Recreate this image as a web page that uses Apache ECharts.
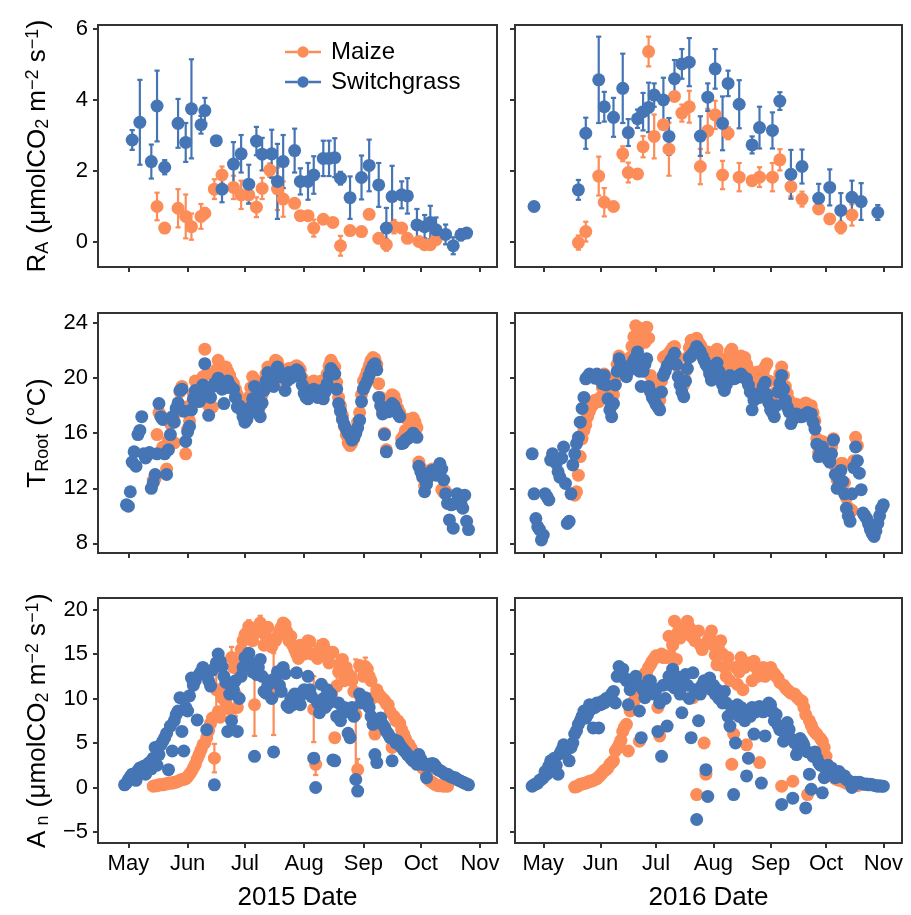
<!DOCTYPE html>
<html><head><meta charset="utf-8">
<script src="https://cdn.jsdelivr.net/npm/echarts@6/dist/echarts.min.js"></script>
<style>html,body{margin:0;padding:0;background:#fff}#c{width:911px;height:915px}</style>
</head><body><div id="c"></div>
<script>
// ---------------- DATA ----------------
// x values are days counted from May 1 of each year
const monthTickDays = [0, 31, 61, 92, 123, 153, 184];
const monthLabels = ['May', 'Jun', 'Jul', 'Aug', 'Sep', 'Oct', 'Nov'];
const raTicks = [0, 2, 4, 6];
const tTicks = [8, 12, 16, 20, 24];
const anTicks = [-5, 0, 5, 10, 15, 20];

// R_A (sparse, mean and error)
const raSwitch2015Day = [2,6,12,15,19,26,30,33,38,40,46,49,55,59,63,67,70,75,78,81,87,90,94,97,102,105,108,111,116,122,126,131,135,138,143,146,151,155,158,161,166,170,174,177];
const raSwitch2015Val = [2.87,3.37,2.26,3.83,2.10,3.34,2.80,3.75,3.30,3.70,2.85,1.48,2.19,2.48,1.62,2.84,2.47,2.48,1.70,2.26,2.57,1.70,1.70,1.88,2.35,2.35,2.37,1.79,1.24,1.81,2.15,1.60,0.38,1.27,1.32,1.29,0.47,0.42,0.54,0.33,0.20,-0.12,0.19,0.24];
const raSwitch2015Err = [0.28,1.20,0.48,1.00,0.20,0.69,0.55,1.40,0.25,0.36,0.10,0.37,0.62,0.53,0.55,0.40,0.46,0.68,1.06,0.75,0.62,0.37,0.52,0.53,0.50,0.50,0.55,0.18,0.60,0.62,0.73,0.62,0.57,0.87,0.38,0.50,0.45,0.33,0.47,0.35,0.28,0.24,0.16,0.10];
const raMaize2015Day = [15,19,26,30,33,38,40,45,49,55,59,63,67,70,74,78,81,87,90,94,97,102,107,111,116,122,126,131,135,139,143,146,152,155,158,161];
const raMaize2015Val = [0.99,0.38,0.94,0.71,0.42,0.71,0.80,1.48,1.88,1.53,1.32,1.32,0.97,1.50,2.02,1.49,1.20,1.08,0.73,0.73,0.38,0.63,0.54,-0.12,0.31,0.28,0.77,0.09,-0.09,0.42,0.38,0.09,0.00,-0.09,-0.09,0.05];
const raMaize2015Err = [0.39,0,0.54,0.62,0.37,0.35,0.15,0.28,0.24,0.33,0.40,0.24,0.28,0.30,0.19,0.60,0.50,0.10,0.10,0.10,0.24,0.10,0.10,0.28,0.10,0.10,0.10,0.10,0.17,0.19,0.10,0.10,0.10,0.10,0.10,0.10];
const raSwitch2016Day = [-5,19,23,30,33,38,43,46,51,54,57,60,65,68,71,75,79,85,89,93,97,100,106,113,117,124,128,134,140,149,155,161,167,172,181];
const raSwitch2016Val = [0.99,1.46,3.06,4.57,3.81,3.51,4.33,3.08,3.47,3.67,3.79,4.14,4.00,2.97,4.60,5.02,5.07,2.98,4.08,4.88,3.34,4.47,3.88,2.73,3.22,3.14,3.97,1.90,2.12,1.22,1.53,0.88,1.25,1.13,0.82];
const raSwitch2016Err = [0,0.28,0.44,1.22,0.42,0.55,0.98,0.38,0.26,0.53,0.70,0.33,0.63,0.52,0.53,0.42,0.68,0.56,0.39,0.56,0.76,0.36,0.68,0.24,0.59,0.51,0.25,0.69,0.48,0.41,0.51,0.49,0.47,0.52,0.21];
const raMaize2016Day = [19,23,30,33,38,43,46,51,54,57,60,65,68,71,75,79,85,89,93,97,100,106,113,117,124,128,134,140,149,155,161,167];
const raMaize2016Val = [-0.03,0.28,1.85,1.11,0.99,2.48,1.95,1.91,2.68,5.37,2.97,3.30,2.61,4.10,3.63,3.81,2.12,3.13,3.58,1.88,3.06,1.82,1.72,1.82,1.82,2.31,1.55,1.20,0.92,0.64,0.40,0.75];
const raMaize2016Err = [0.20,0.28,0.55,0.40,0.10,0.21,0.28,0.10,0.30,0.42,0.62,0.10,0.75,0.10,0.24,0.45,0.50,0.62,0.40,0.40,0.17,0.40,0.10,0.28,0.40,0.30,0.28,0.21,0.10,0.10,0.17,0.30];

// T_root (daily values, first value at the given start day)
const tSwitch2015Start = -1;
const tSwitch2015 = [10.8,10.7,11.75,13.9,14.65,13.6,15.9,16.2,17.2,14.5,
14.2,14.4,14.6,12.0,12.4,13.0,14.5,18.15,17.2,17.0,
14.5,13.0,14.8,15.9,17.2,16.8,17.8,18.2,19.1,19.2,
17.6,15.4,16.1,16.5,17.7,18.5,19.1,18.9,18.3,18.5,
19.5,21.05,19.1,17.3,18.6,19.4,19.6,19.7,20.0,19.7,
19.2,18.15,19.3,19.8,19.5,19.3,19.2,18.6,17.9,18.0,
17.7,17.2,16.8,17.0,17.4,17.9,18.5,19.4,18.6,17.7,
17.2,18.2,19.1,19.8,20.4,20.1,20.1,19.4,20.0,20.8,
20.5,20.1,20.1,19.1,19.8,20.4,20.0,20.3,20.3,20.6,
20.5,20.1,19.5,18.9,18.6,18.5,18.9,19.1,19.2,18.9,
18.6,18.8,19.1,18.5,19.0,19.6,20.2,20.7,20.5,20.3,
19.2,18.15,17.6,17.0,16.6,16.3,16.0,15.8,15.5,15.7,
16.0,16.4,16.95,18.3,19.2,19.5,19.8,20.2,20.6,20.9,
21.05,20.6,18.6,18.0,17.4,15.9,14.65,17.55,17.9,18.15,
18.0,17.7,17.4,17.2,15.25,15.3,15.5,15.6,15.7,15.8,
16.0,15.8,15.7,13.6,13.2,12.8,11.75,12.3,12.8,13.1,
13.3,13.1,12.95,13.3,13.8,13.4,12.6,11.6,10.9,9.7,
10.8,9.1,10.9,11.6,11.2,10.9,10.55,11.5,9.6,9.0];
const tMaize2015Start = 13;
const tMaize2015 = [12.6,12.7,15.9,17.5,17.3,15.0,14.6,13.4,15.5,16.7,
16.9,15.3,17.5,18.0,19.0,19.4,17.9,14.5,16.3,16.9,
18.1,18.9,19.8,19.4,19.0,19.2,20.1,22.1,20.3,18.0,
19.3,17.9,20.4,20.6,21.3,20.9,20.5,20.6,20.8,20.5,
20.2,19.8,19.6,19.2,18.8,18.5,18.3,17.9,17.5,18.0,
18.6,19.3,20.1,19.9,19.0,18.3,18.0,18.8,19.7,20.3,
20.8,20.6,20.5,20.0,21.3,21.2,20.8,20.5,20.4,19.8,
20.3,20.7,20.5,20.7,20.8,20.9,20.8,20.6,20.0,19.4,
19.2,19.0,19.4,19.6,19.8,19.5,19.2,19.4,19.8,19.0,
19.7,20.3,20.9,21.3,21.0,20.8,19.7,18.6,18.0,17.3,
16.5,15.9,15.3,15.1,15.3,15.6,16.2,16.8,17.5,18.8,
19.8,20.1,20.5,20.9,21.3,21.5,21.4,21.0,19.6,18.6,
17.6,16.0,14.8,18.0,18.5,18.8,18.7,18.3,17.8,17.5,
15.6,15.8,16.2,17.0,16.9,17.0,17.1,16.8,16.4,13.9,
13.5,13.0,12.2,12.5,13.0,13.3,13.4,13.3,13.2,13.5,
13.2,11.9,11.7,11.8];
const tSwitch2016Start = -6;
const tSwitch2016 = [14.5,11.6,9.8,9.2,9.0,8.25,8.6,11.6,11.4,11.15,
14.05,14.5,14.2,13.8,13.2,12.8,14.2,15.0,12.35,9.45,
9.6,11.6,13.7,14.5,15.25,15.7,16.8,17.8,18.6,19.95,
20.1,20.3,20.2,20.1,20.0,20.3,20.0,19.85,19.6,20.2,
19.5,18.5,17.7,17.2,18.15,19.5,20.5,21.4,21.0,20.9,
20.4,20.1,20.5,20.8,21.0,21.3,21.5,21.9,20.5,19.4,
20.5,21.0,21.4,19.4,19.0,18.6,18.4,18.1,17.9,17.7,
19.0,20.2,20.5,20.9,21.0,21.3,21.5,21.8,21.0,20.1,
19.5,19.0,18.65,19.8,20.7,21.5,21.6,21.8,22.0,22.3,
22.1,21.9,21.6,21.3,21.0,20.8,20.3,19.85,20.0,20.2,
21.1,20.5,19.85,19.5,19.1,19.5,19.9,20.2,20.0,19.95,
20.0,20.1,20.2,20.3,20.1,20.0,19.95,19.5,19.0,17.7,
18.4,18.75,18.7,18.6,19.0,19.4,19.7,18.8,18.2,17.7,
17.5,17.2,18.0,19.0,19.6,20.2,19.2,18.4,17.9,17.55,
16.7,17.0,17.2,17.4,17.3,17.2,17.2,17.3,17.4,17.5,
17.4,17.4,16.8,16.3,15.2,14.3,14.6,15.0,14.6,14.3,
14.1,13.9,14.5,15.5,13.0,12.0,12.6,13.3,12.5,11.6,
10.55,10.0,9.6,11.6,13.5,15.0,14.0,13.1,11.9,10.2,
10.0,9.8,9.4,9.0,8.7,8.5,8.9,9.45,10.0,10.55,
10.8];
const tMaize2016Start = 17;
const tMaize2016 = [11.5,11.75,12.95,14.3,15.6,16.2,16.6,17.2,17.6,17.9,
18.1,18.4,18.4,18.3,18.6,19.3,20.3,20.0,19.2,18.4,
18.0,18.8,20.0,21.0,21.6,21.3,21.1,20.8,20.5,21.0,
21.5,22.3,23.0,23.8,23.0,22.4,23.1,23.6,22.6,23.7,
22.9,20.2,19.5,19.0,18.8,18.6,18.4,19.8,21.5,21.6,
21.5,21.8,22.0,22.2,22.3,21.6,20.8,20.1,19.7,19.5,
20.5,21.5,22.2,22.75,22.5,22.7,22.9,22.6,22.4,22.1,
21.9,21.8,21.9,21.2,20.7,21.0,21.6,22.1,21.5,20.8,
20.4,20.0,20.7,21.4,21.9,22.1,21.4,21.0,21.1,21.5,
21.6,21.4,21.5,21.0,20.6,20.0,19.0,19.6,20.2,20.45,
20.0,19.8,20.4,20.8,21.05,19.8,18.8,18.4,18.2,19.0,
19.8,20.3,20.8,20.2,19.4,18.9,18.4,17.6,17.8,17.9,
18.1,18.0,17.9,17.9,18.1,18.2,18.1,18.0,18.0,17.5,
16.9,15.6,14.6,15.0,15.4,15.0,14.6,14.4,14.3,15.0,
15.6,13.6,12.6,13.0,13.8,13.8,12.4,11.3,10.6,10.2,
10.4,14.0,15.7,15.1];

// A_n (daily values)
const anSwitch2015Start = -2;
const anSwitch2015 = [0.3,0.5,0.9,1.2,1.5,1.0,0.8,1.9,2.2,1.8,
2.4,1.5,2.6,2.8,2.1,3.3,4.5,2.5,3.7,4.8,
5.2,5.6,6.1,2.0,6.9,4.1,7.5,8.2,8.6,10.1,
6.3,4.1,9.0,8.6,10.3,12.3,11.5,12.0,7.6,12.7,
13.0,13.5,12.8,6.5,12.0,11.4,13.2,0.3,14.0,15.0,
14.2,13.6,12.5,11.8,6.3,10.5,7.5,11.0,12.0,6.3,
10.0,12.5,13.5,14.6,14.0,15.1,14.0,13.0,3.5,12.7,
13.5,14.4,12.5,10.8,10.6,11.5,12.0,10.0,4.0,12.3,
13.0,11.5,10.8,13.5,12.8,9.2,9.0,10.0,9.3,10.5,
12.9,10.5,9.3,10.5,11.0,10.8,12.5,11.0,10.2,3.3,
0.0,9.5,8.4,11.6,10.0,9.0,11.0,9.5,10.5,3.1,
3.0,8.0,9.5,7.5,8.5,9.0,8.5,6.1,5.6,9.0,
8.0,0.9,-0.4,10.5,9.5,10.0,10.1,9.7,9.0,8.0,
7.1,3.7,2.8,7.5,7.8,7.1,6.8,6.3,6.0,5.6,
3.0,5.4,5.0,5.2,4.8,4.5,4.2,4.0,3.7,3.5,
3.2,3.0,3.0,2.6,3.7,3.2,2.8,2.5,1.1,2.6,
2.4,2.7,2.6,2.3,2.0,1.9,1.8,1.6,1.5,1.5,
1.3,1.2,1.1,1.1,0.9,0.8,0.7,0.6,0.5,0.4,
0.3];
const anMaize2015Start = 13;
const anMaize2015 = [0.15,0.2,0.2,0.3,0.3,0.3,0.4,0.4,0.5,0.5,
0.5,0.6,0.6,0.7,0.8,0.9,0.9,1.0,1.2,1.5,
1.8,2.2,2.6,3.2,3.7,4.2,4.8,5.0,5.6,6.4,
7.2,7.8,3.3,11.0,8.5,7.9,10.1,11.2,9.5,10.5,
8.8,14.6,13.5,10.5,9.0,14.0,15.5,16.5,17.2,17.4,
18.1,17.0,16.5,9.3,17.8,17.5,18.5,18.0,16.0,17.0,
18.0,16.5,15.8,10.5,16.5,17.0,17.5,18.0,18.5,18.3,
17.5,16.5,17.0,16.0,15.5,15.0,14.5,16.0,15.5,15.0,
16.0,16.5,16.4,15.0,8.8,2.6,14.5,15.5,15.8,16.1,
15.5,14.8,14.0,15.1,15.2,5.6,11.4,13.0,14.0,14.4,
12.0,13.5,12.8,12.5,12.0,10.8,8.2,2.0,13.7,13.5,
12.5,13.6,13.3,12.5,12.0,10.1,6.0,11.0,10.5,10.2,
10.0,9.8,9.4,9.3,8.5,4.5,8.0,7.5,7.5,7.2,
6.5,6.0,5.5,5.0,4.8,4.4,4.0,3.7,3.3,2.8,
2.5,2.2,2.0,1.5,0.9,0.7,0.6,0.4,0.3,0.2,
0.2,0.2,0.15,0.2,0.15];
const anMaize2015ErrDay = [45,46,53,54,56,58,63,66,69,76,80,97,98,100,109,119,120,124];
const anMaize2015ErrVal = [1.6,2.0,2.0,1.2,2.5,1.0,0.7,3.5,0.8,4.6,0.6,3.7,1.2,1.0,2.2,6.2,1.2,1.0];
const anSwitch2016Start = -6;
const anSwitch2016 = [0.15,0.3,0.4,0.5,0.8,0.9,1.1,1.8,1.5,2.4,
3.0,2.8,3.3,2.5,1.5,3.8,4.2,4.8,4.0,4.6,
3.0,4.5,5.0,6.0,6.4,7.1,7.5,8.0,8.6,7.8,
8.2,9.3,8.8,6.7,9.0,9.5,6.7,9.3,9.7,9.5,
10.0,9.8,10.1,10.5,10.8,9.5,12.5,13.6,13.0,13.3,
12.3,12.0,9.3,11.0,12.1,11.5,12.5,11.6,8.6,5.6,
11.0,10.1,11.5,12.0,12.0,11.2,10.5,11.0,6.3,9.5,
3.5,11.5,10.0,6.9,12.5,11.5,13.3,11.2,12.5,11.0,
10.5,8.4,11.5,12.7,11.5,10.0,5.6,12.9,11.0,-3.6,
7.5,10.5,11.5,12.0,2.0,-1.0,12.3,11.0,11.5,10.5,
11.0,10.0,10.5,9.5,10.8,9.5,8.0,6.9,8.5,-0.8,
5.0,9.3,8.0,9.0,8.6,7.5,1.3,3.3,8.0,9.0,
6.0,8.5,9.0,9.1,0.5,8.5,5.8,9.0,9.5,9.3,
8.5,7.5,8.2,7.0,6.5,-1.9,5.2,6.0,7.3,6.5,
5.5,-1.2,5.0,3.7,4.5,5.5,5.2,4.8,-2.3,4.0,
1.5,-0.2,3.5,4.0,3.3,2.8,2.5,-0.6,1.1,2.0,
2.5,1.8,2.2,1.5,1.1,1.5,1.8,1.5,1.2,1.3,
0.9,0.8,0.6,0.0,0.5,0.6,0.5,0.6,0.5,0.4,
0.35,0.4,0.3,0.35,0.3,0.25,0.2,0.15,0.2,0.15,
0.15];
const anMaize2016Start = 17;
const anMaize2016 = [0.05,0.1,0.2,0.35,0.4,0.45,0.5,0.6,0.7,0.7,
0.8,0.9,1.0,1.2,1.4,1.65,1.9,2.0,2.2,2.6,
2.8,3.0,4.1,4.4,4.8,5.3,6.3,6.8,7.1,4.1,
8.6,9.2,9.7,10.1,10.8,5.2,11.6,12.3,12.8,13.0,
13.5,13.8,14.2,14.5,14.8,9.0,5.8,15.0,14.6,14.8,
14.6,17.0,14.8,16.0,18.7,14.4,17.5,16.8,18.0,17.5,
18.2,18.7,18.0,17.0,10.1,16.5,-0.8,17.6,16.0,15.5,
5.0,1.5,16.5,17.0,17.6,16.0,14.9,13.8,15.5,16.5,
15.0,13.5,12.5,14.6,12.0,2.6,6.0,13.5,11.6,13.0,
14.6,11.0,13.5,4.8,14.0,13.8,12.0,14.2,13.5,12.5,
2.8,13.0,13.5,12.5,13.0,13.3,13.5,13.0,12.8,12.5,
12.3,11.8,0.15,11.5,11.2,11.0,10.8,10.6,0.7,10.5,
10.2,10.0,9.8,9.7,9.0,8.2,-0.8,7.5,7.0,6.5,
6.2,6.0,3.9,5.5,5.2,4.5,3.5,2.5,1.8,1.5,
1.2,1.0,0.9,0.8,0.8,0.7,0.6,0.5,0.5,0.4,
0.4,0.3,0.3,0.2];

// ---------------- CHART ----------------
const FONT = '"Liberation Sans", Arial, Helvetica, sans-serif';
const ORANGE = '#FC8D59', BLUE = '#4575B4', AX = '#333333';

const daily = (start, vals) => vals.map((v, i) => [start + i, v]);
const pairs = (days, vals) => days.map((d, i) => [d, vals[i]]);
const errRows = (days, vals, errs) => days.map((d, i) => [d, vals[i] - errs[i], vals[i] + errs[i], errs[i]]).filter(r => r[3] > 0);
const dailyErr = (start, vals, days, errs) => days.map((d, i) => { const v = vals[d - start]; return [d, v - errs[i], v + errs[i], errs[i]]; });

const colX = [{left: 98, width: 399, min: -15.9, max: 192.9}, {left: 515, width: 387, min: -15.3, max: 194.1}];
const rowY = [{top: 25, height: 242, min: -0.72, max: 6.12, ticks: raTicks},
              {top: 313, height: 240, min: 7.3, max: 24.73, ticks: tTicks},
              {top: 598, height: 245, min: -6.24, max: 21.3, ticks: anTicks}];

const grids = [], xAxes = [], yAxes = [];
const richBase = {
  m: {fontSize: 26, fontFamily: FONT, color: '#000', lineHeight: 26, verticalAlign: 'middle'},
  p: {fontSize: 28, fontFamily: FONT, color: '#000', lineHeight: 28, verticalAlign: 'middle'},
  s: {fontSize: 18, fontFamily: FONT, color: '#000', lineHeight: 18, verticalAlign: 'bottom'},
  u: {fontSize: 18, fontFamily: FONT, color: '#000', lineHeight: 18, verticalAlign: 'top'}
};
const yNames = [
  '{m|R}{s|A}{p| (}{m|μmolCO}{s|2}{m| m}{u|−2}{m| s}{u|−1}{p|)}',
  '{m|T}{s|Root}{p| (}{m|°C}{p|)}',
  '{m|A}{s| n}{p| (}{m|μmolCO}{s|2}{m| m}{u|−2}{m| s}{u|−1}{p|)}'
];
const fmtNum = v => v < 0 ? '\u2212' + Math.abs(v) : String(v);

for (let r = 0; r < 3; r++) {
  for (let c = 0; c < 2; c++) {
    const gi = grids.length;
    grids.push({left: colX[c].left, width: colX[c].width, top: rowY[r].top, height: rowY[r].height,
      show: true, borderColor: AX, borderWidth: 2, backgroundColor: 'transparent', containLabel: false});
    xAxes.push({type: 'value', gridIndex: gi, min: colX[c].min, max: colX[c].max, position: 'bottom',
      axisLine: {show: false, onZero: false}, splitLine: {show: false},
      axisTick: {show: true, inside: false, length: 5, customValues: monthTickDays, lineStyle: {color: AX, width: 2}},
      axisLabel: {show: r === 2, customValues: monthTickDays, margin: 10, fontSize: 22, fontFamily: FONT, color: '#000',
        formatter: v => monthLabels[monthTickDays.indexOf(Math.round(v))] || ''},
      name: r === 2 ? (c === 0 ? '2015 Date' : '2016 Date') : '',
      nameLocation: 'middle', nameGap: 42,
      nameTextStyle: {fontSize: 26, fontFamily: FONT, color: '#000'}
    });
    yAxes.push({type: 'value', gridIndex: gi, min: rowY[r].min, max: rowY[r].max, position: 'left',
      axisLine: {show: false, onZero: false}, splitLine: {show: false},
      axisTick: {show: true, inside: false, length: 5, customValues: rowY[r].ticks, lineStyle: {color: AX, width: 2}},
      axisLabel: {show: c === 0, customValues: rowY[r].ticks, margin: 10, fontSize: 22, fontFamily: FONT, color: '#000', formatter: fmtNum},
      name: c === 0 ? yNames[r] : '',
      nameLocation: 'middle', nameRotate: 90, nameGap: 46,
      nameTextStyle: {lineHeight: 32, rich: richBase}
    });
  }
}

function errRender(color) {
  return function (params, api) {
    const x = api.value(0), lo = api.value(1), hi = api.value(2);
    const a = api.coord([x, lo]), b = api.coord([x, hi]);
    const hw = 2.6;
    const st = {stroke: color, lineWidth: 2.2};
    return {type: 'group', children: [
      {type: 'line', shape: {x1: a[0], y1: a[1], x2: b[0], y2: b[1]}, style: st},
      {type: 'line', shape: {x1: a[0] - hw, y1: a[1], x2: a[0] + hw, y2: a[1]}, style: st},
      {type: 'line', shape: {x1: b[0] - hw, y1: b[1], x2: b[0] + hw, y2: b[1]}, style: st}
    ]};
  };
}
function pts(name, gi, data, color) {
  return {type: 'scatter', name, xAxisIndex: gi, yAxisIndex: gi, data, symbol: 'circle', symbolSize: 13,
    itemStyle: {color, opacity: 1}, silent: true, animation: false, emphasis: {disabled: true}};
}
function errs(name, gi, data, color) {
  return {type: 'custom', name, xAxisIndex: gi, yAxisIndex: gi, data, renderItem: errRender(color),
    itemStyle: {color}, dimensions: ['x', 'lo', 'hi', 'e'], encode: {x: 0, y: [1, 2]}, silent: true, animation: false, clip: true};
}

const series = [
  // R_A 2015
  pts('Maize', 0, pairs(raMaize2015Day, raMaize2015Val), ORANGE),
  errs('Maize', 0, errRows(raMaize2015Day, raMaize2015Val, raMaize2015Err), ORANGE),
  pts('Switchgrass', 0, pairs(raSwitch2015Day, raSwitch2015Val), BLUE),
  errs('Switchgrass', 0, errRows(raSwitch2015Day, raSwitch2015Val, raSwitch2015Err), BLUE),
  // R_A 2016
  pts('Maize', 1, pairs(raMaize2016Day, raMaize2016Val), ORANGE),
  errs('Maize', 1, errRows(raMaize2016Day, raMaize2016Val, raMaize2016Err), ORANGE),
  pts('Switchgrass', 1, pairs(raSwitch2016Day, raSwitch2016Val), BLUE),
  errs('Switchgrass', 1, errRows(raSwitch2016Day, raSwitch2016Val, raSwitch2016Err), BLUE),
  // T root
  pts('Maize', 2, daily(tMaize2015Start, tMaize2015), ORANGE),
  pts('Switchgrass', 2, daily(tSwitch2015Start, tSwitch2015), BLUE),
  pts('Maize', 3, daily(tMaize2016Start, tMaize2016), ORANGE),
  pts('Switchgrass', 3, daily(tSwitch2016Start, tSwitch2016), BLUE),
  // A_n
  pts('Maize', 4, daily(anMaize2015Start, anMaize2015), ORANGE),
  errs('Maize', 4, dailyErr(anMaize2015Start, anMaize2015, anMaize2015ErrDay, anMaize2015ErrVal), ORANGE),
  pts('Switchgrass', 4, daily(anSwitch2015Start, anSwitch2015), BLUE),
  pts('Maize', 5, daily(anMaize2016Start, anMaize2016), ORANGE),
  pts('Switchgrass', 5, daily(anSwitch2016Start, anSwitch2016), BLUE)
];

const legendIcon = 'path://M0,5 L13,5 L13,7.4 L0,7.4 Z M25,5 L38,5 L38,7.4 L25,7.4 Z M13,6.2 A6,6 0 1,0 25,6.2 A6,6 0 1,0 13,6.2 Z';

const chart = echarts.init(document.getElementById('c'), null, {renderer: 'canvas'});
chart.setOption({
  animation: false,
  backgroundColor: '#fff',
  grid: grids, xAxis: xAxes, yAxis: yAxes,
  legend: {left: 280, top: 35, orient: 'vertical', itemWidth: 36, itemHeight: 13, itemGap: 6, selectedMode: false,
    data: [{name: 'Maize', icon: legendIcon, itemStyle: {color: ORANGE}}, {name: 'Switchgrass', icon: legendIcon, itemStyle: {color: BLUE}}],
    textStyle: {fontSize: 24, fontFamily: FONT, color: '#000', lineHeight: 24, padding: [0, 0, 0, 5]}},
  series
});
</script></body></html>
